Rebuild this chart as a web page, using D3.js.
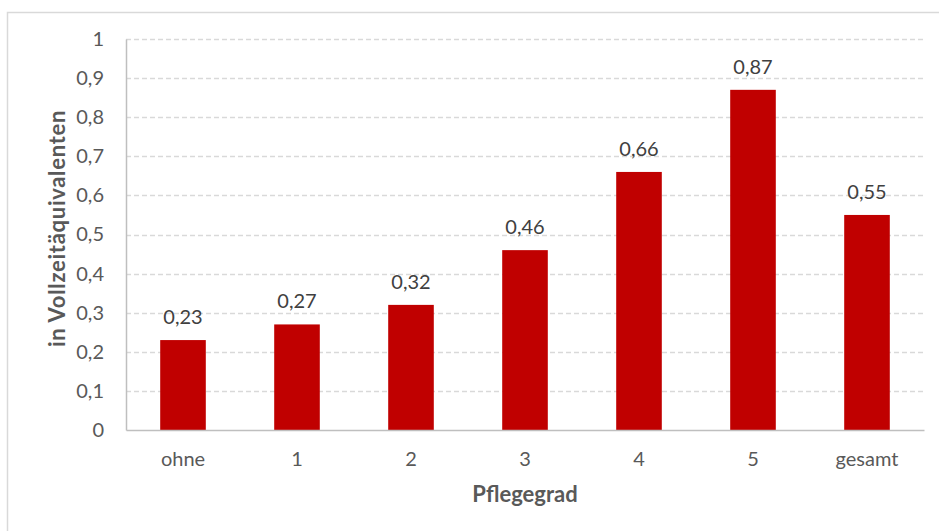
<!DOCTYPE html>
<html>
<head>
<meta charset="utf-8">
<script src="https://cdn.jsdelivr.net/npm/d3@7"></script>
<style>
  html, body { margin: 0; padding: 0; background: #fff; }
  svg { display: block; font-family: Lato, "Open Sans", sans-serif; }
</style>
</head>
<body>
<svg id="chart" width="939" height="531"></svg>
<script>
// Pflegegrad categories and full-time equivalents per category
const categories = ["ohne", "1", "2", "3", "4", "5", "gesamt"];
const values = [0.23, 0.27, 0.32, 0.46, 0.66, 0.87, 0.55];
const yTicks = [0, 0.1, 0.2, 0.3, 0.4, 0.5, 0.6, 0.7, 0.8, 0.9, 1];

const fmt = v => String(v).replace(".", ",");

const svg = d3.select("#chart");
const margin = { left: 126, right: 15, top: 39, bottom: 101 };
const W = 939, H = 531;

// chart frame
svg.append("rect")
  .attr("x", 7.5).attr("y", 12.5)
  .attr("width", 1000).attr("height", 1000)
  .attr("fill", "none").attr("stroke", "#d9d9d9").attr("stroke-width", 1.5);

const x = d3.scaleBand()
  .domain(categories)
  .range([margin.left, W - margin.right])
  .paddingInner(0.6)
  .paddingOuter(0.3);

const y = d3.scaleLinear()
  .domain([0, 1])
  .range([H - margin.bottom, margin.top]);

// horizontal gridlines
svg.append("g")
  .selectAll("line")
  .data(yTicks.filter(t => t > 0))
  .join("line")
  .attr("x1", margin.left).attr("x2", W - margin.right)
  .attr("y1", d => Math.round(y(d)) + 0.5).attr("y2", d => Math.round(y(d)) + 0.5)
  .attr("stroke", "#d9d9d9").attr("stroke-width", 1.3)
  .attr("stroke-dasharray", "5,3");

// y axis
const yAxis = svg.append("g")
  .attr("transform", `translate(${margin.left},0)`)
  .call(d3.axisLeft(y).tickValues(yTicks).tickFormat(fmt).tickSize(0).tickPadding(22));
yAxis.select(".domain").attr("stroke", "#bfbfbf").attr("stroke-width", 1.5);
yAxis.selectAll("text")
  .attr("fill", "#595959").attr("font-size", 20).attr("font-family", "Lato, sans-serif");

// bars
svg.append("g")
  .selectAll("rect")
  .data(values)
  .join("rect")
  .attr("x", (d, i) => x(categories[i]))
  .attr("y", d => y(d))
  .attr("width", x.bandwidth())
  .attr("height", d => y(0) - y(d))
  .attr("fill", "#c00000");

// value labels
svg.append("g")
  .selectAll("text")
  .data(values)
  .join("text")
  .attr("x", (d, i) => x(categories[i]) + x.bandwidth() / 2)
  .attr("y", d => y(d) - 16)
  .attr("text-anchor", "middle")
  .attr("fill", "#404040").attr("font-size", 20)
  .text(fmt);

// x axis
const xAxis = svg.append("g")
  .attr("transform", `translate(0,${y(0)})`)
  .call(d3.axisBottom(x).tickSize(0).tickPadding(22));
xAxis.select(".domain").attr("stroke", "#bfbfbf").attr("stroke-width", 1.5);
xAxis.selectAll("text")
  .attr("fill", "#595959").attr("font-size", 20).attr("font-family", "Lato, sans-serif");

// axis titles
svg.append("text")
  .attr("x", (margin.left + W - margin.right) / 2)
  .attr("y", 502)
  .attr("text-anchor", "middle")
  .attr("fill", "#595959").attr("font-size", 22).attr("font-weight", "bold")
  .text("Pflegegrad");

svg.append("text")
  .attr("transform", `translate(65,${(y(0) + y(1)) / 2 - 6}) rotate(-90)`)
  .attr("text-anchor", "middle")
  .attr("fill", "#595959").attr("font-size", 22).attr("font-weight", "bold")
  .attr("letter-spacing", 0.7)
  .text("in Vollzeitäquivalenten");
</script>
</body>
</html>
